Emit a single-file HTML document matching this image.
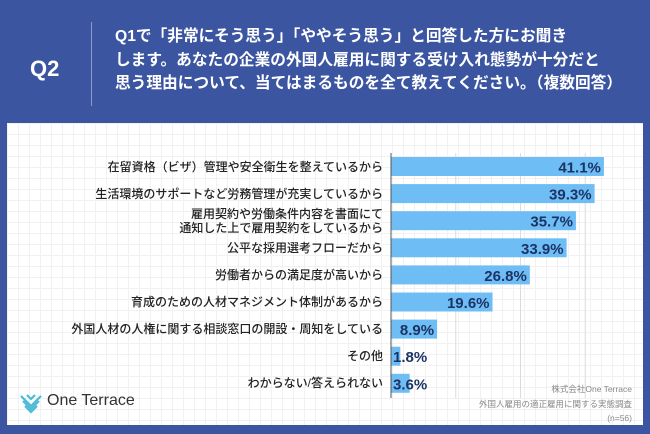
<!DOCTYPE html>
<html><head><meta charset="utf-8"><style>
body{margin:0;width:650px;height:434px;background:#3b55a1;position:relative;overflow:hidden;font-family:"Liberation Sans","Noto Sans CJK JP",sans-serif}
.abs{position:absolute}
#panel{left:7px;top:123px;width:636px;height:302px;background-color:#fff;background-image:linear-gradient(#f1f1f1 1px,transparent 1px),linear-gradient(90deg,#f1f1f1 1px,transparent 1px);background-size:11px 11px}
.q{color:#fff;font-weight:bold}
.lbl{position:absolute;right:267px;font-size:12px;color:#222;text-align:right;white-space:nowrap;line-height:14px;font-weight:500}
</style></head><body>
<div class="abs q" style="left:30px;top:56px;font-size:22px">Q2</div>
<div class="abs" style="left:91px;top:22px;width:1px;height:84px;background:#8a9bcc"></div>
<div class="abs q" style="left:115px;top:25px;font-size:15.7px;line-height:23.5px;white-space:nowrap">Q1で「非常にそう思う」「ややそう思う」と回答した方にお聞き<br>します。あなたの企業の外国人雇用に関する受け入れ態勢が十分だと<br>思う理由について、当てはまるものを全て教えてください。（複数回答）</div>
<div class="abs" id="panel"></div>
<svg class="abs" style="left:0;top:0" width="650" height="434" id="chart"></svg>
<div id="labels"></div>
<div class="abs" style="right:18px;top:382px;font-size:8.5px;color:#888;text-align:right;line-height:14.5px">株式会社One Terrace<br>外国人雇用の適正雇用に関する実態調査<br>(n=56)</div>
<svg class="abs" style="left:19px;top:392px" width="24" height="22">
<g fill="none" stroke="#4bbbd8" stroke-width="2.2"><path d="M2 4 L12 14 L22 4"/><path d="M4 9 L12 17 L20 9"/><path d="M6 14 L12 20 L18 14"/><path d="M8 3 L12 7 L16 3"/></g></svg>
<div class="abs" style="left:47px;top:392px;font-size:16px;color:#333">One Terrace</div>
<script>
const categories=["在留資格（ビザ）管理や安全衛生を整えているから","生活環境のサポートなど労務管理が充実しているから","雇用契約や労働条件内容を書面にて\n通知した上で雇用契約をしているから","公平な採用選考フローだから","労働者からの満足度が高いから","育成のための人材マネジメント体制があるから","外国人材の人権に関する相談窓口の開設・周知をしている","その他","わからない/答えられない"];
const values=[41.1,39.3,35.7,33.9,26.8,19.6,8.9,1.8,3.6];
const gridTicks=[12.5,25,37.5];
const NS="http://www.w3.org/2000/svg";
const svg=document.getElementById('chart');
const x0=391,pxPer=5.18,y0=157,step=27.1,bh=19;
const xs=v=>x0+v*pxPer, ys=i=>y0+i*step;
function mk(t,a){const e=document.createElementNS(NS,t);for(const k in a)e.setAttribute(k,a[k]);svg.appendChild(e);return e;}
gridTicks.forEach(t=>{const l=mk('line',{x1:xs(t),x2:xs(t),y1:153,y2:398,stroke:'#dcdcdc','stroke-width':1});

});
const lab=document.getElementById('labels');
values.forEach((v,i)=>{
 const r=mk('rect',{x:x0,y:ys(i),width:v*pxPer,height:bh,fill:'#6fbdf5'});
 
 
 const inside=v>5;
 const t=mk('text',{x:inside?xs(v)-3:x0+2,y:ys(i)+15.5,'text-anchor':inside?'end':'start','font-size':'15','font-family':'Liberation Sans, sans-serif','fill':'#1b3465','font-weight':'bold'});
 t.textContent=v.toFixed(1)+'%';
 
 
 const d=document.createElement('div');d.className='lbl';
 const lines=categories[i].split('\n');
 d.innerHTML=lines.join('<br>');
 d.style.top=(ys(i)+bh/2-lines.length*7)+'px';
 
 
 lab.appendChild(d);
});
const ax=mk('line',{x1:x0,x2:x0,y1:153,y2:398,stroke:'#555','stroke-width':1});


</script>
</body></html>
